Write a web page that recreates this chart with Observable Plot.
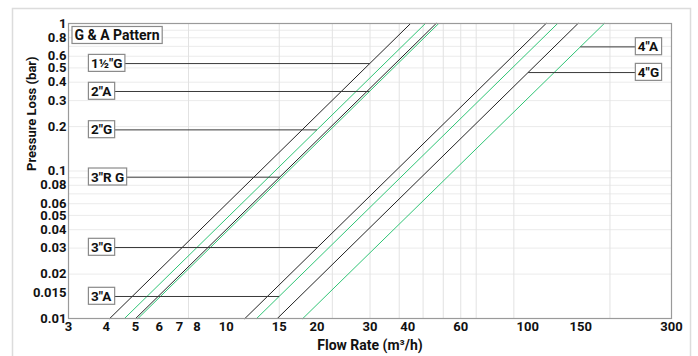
<!DOCTYPE html>
<html><head><meta charset="utf-8">
<script src="https://cdn.jsdelivr.net/npm/d3@7"></script>
<script src="https://cdn.jsdelivr.net/npm/@observablehq/plot@0.6"></script>
<style>
body{margin:0;background:#fff;}
#chart{position:relative;width:698px;height:356px;overflow:hidden;background:#fff}
</style></head><body><div id="chart"></div>
<script>
// Series (valve sizes) and their straight log-log lines, read at P = 0.01 bar and P = 1 bar
const series = ['1½"G', '2"G', '3"R G', '2"A', '3"G', '3"A', '4"G', '4"A'];
const seriesColor = ["black", "green", "black", "green", "black", "green", "black", "green"];
const flowAtLow = [4.11, 4.60, 5.01, 5.10, 11.54, 12.62, 14.78, 17.96];   // m3/h at 0.01 bar
const flowAtHigh = [40.9, 45.8, 49.7, 50.7, 115.1, 125.7, 146.9, 179.5];  // m3/h at 1 bar
const pressureLow = 0.01, pressureHigh = 1;
// Label leader heights (bar) and which side the label sits on
const labelPressure = [0.535, 0.19, 0.0908, 0.346, 0.0303, 0.0141, 0.465, 0.694];
const labelSide = ["left", "left", "left", "left", "left", "left", "right", "right"];
const title = "G & A Pattern";
const xLabel = "Flow Rate (m³/h)";
const yLabel = "Pressure Loss (bar)";
// Axes
const xTicks = [3, 4, 5, 6, 7, 8, 10, 15, 20, 30, 40, 60, 100, 150, 300];
const yTicks = [0.01, 0.015, 0.02, 0.03, 0.04, 0.05, 0.06, 0.08, 0.1, 0.2, 0.3, 0.4, 0.5, 0.6, 0.8, 1];
const xGrid = [7.5, 15, 22.5, 30, 37.5, 45, 52.5, 60, 67.5, 90, 187.5];
const yGrid = [0.02, 0.03, 0.04, 0.05, 0.06, 0.07, 0.08, 0.09, 0.1, 0.2, 0.3, 0.4, 0.5, 0.6, 0.7, 0.8, 0.9];

const COLORS = {black: "#222222", green: "#2fc475"};
const LABEL_FLOW = {left: 3.56, right: 232};
const FONT = "Roboto, 'DejaVu Sans', sans-serif";

const lineData = series.flatMap((s, i) => [
  {s, q: flowAtLow[i], p: pressureLow, c: COLORS[seriesColor[i]]},
  {s, q: flowAtHigh[i], p: pressureHigh, c: COLORS[seriesColor[i]]}
]);
function flowOn(i, p) {
  const t = (Math.log(p) - Math.log(pressureLow)) / (Math.log(pressureHigh) - Math.log(pressureLow));
  return Math.exp(Math.log(flowAtLow[i]) + t * (Math.log(flowAtHigh[i]) - Math.log(flowAtLow[i])));
}
const labelData = series.map((s, i) => ({
  s, p: labelPressure[i], side: labelSide[i],
  qEnd: flowOn(i, labelPressure[i]), qLabel: LABEL_FLOW[labelSide[i]]
}));

const bold = {fill: "#111", fontWeight: "bold", fontSize: 14};
const plot = Plot.plot({
  width: 698, height: 356,
  marginLeft: 68, marginRight: 27, marginTop: 23, marginBottom: 38,
  style: {fontFamily: FONT, fontSize: "14px", fontWeight: "bold", color: "#111", background: "transparent"},
  x: {type: "log", domain: [3, 300], axis: null},
  y: {type: "log", domain: [0.01, 1], axis: null},
  marks: [
    Plot.ruleY(yGrid, {stroke: "#ebebeb", strokeWidth: 1}),
    Plot.ruleX(xGrid, {stroke: "#e2e2e2", strokeWidth: 1}),
    Plot.line(lineData, {x: "q", y: "p", z: "s", stroke: "c", strokeWidth: 1}),
    Plot.link(labelData, {x1: "qLabel", x2: "qEnd", y1: "p", y2: "p", stroke: "#3a3a3a", strokeWidth: 1}),
    Plot.frame({stroke: "#9a9a9a", strokeWidth: 1.2}),
    // tick labels
    Plot.text(xTicks, {x: d => d, text: d => String(d), frameAnchor: "bottom", lineAnchor: "top", dy: 3, ...bold, fontSize: 13}),
    Plot.text(yTicks, {y: d => d, text: d => String(d), frameAnchor: "left", textAnchor: "end", dx: -2, ...bold, fontSize: 13}),
    // axis titles
    Plot.text([xLabel], {frameAnchor: "bottom", lineAnchor: "middle", dy: 27, ...bold}),
    Plot.text([yLabel], {frameAnchor: "left", rotate: -90, dx: -37, ...bold, fontSize: 13}),
    // boxed labels (the last two text marks get frames)
    Plot.text(labelData, {x: "qLabel", y: "p", text: "s", textAnchor: "start", ...bold, fontSize: 13.5}),
    Plot.text([title], {frameAnchor: "top-left", dx: 6, dy: 12, lineAnchor: "middle", textAnchor: "start", ...bold})
  ]
});
document.getElementById("chart").appendChild(plot);

// boxes around labels
const ns = "http://www.w3.org/2000/svg";
const groups = [...plot.querySelectorAll('g[aria-label="text"]')].slice(-2);
groups.forEach(g => g.querySelectorAll("text").forEach(t => {
  const b = t.getBBox();
  const r = document.createElementNS(ns, "rect");
  r.setAttribute("x", b.x - 2.5); r.setAttribute("y", b.y - 0.5);
  r.setAttribute("width", b.width + 5); r.setAttribute("height", b.height + 1);
  r.setAttribute("fill", "#fff"); r.setAttribute("stroke", "#8a8a8a"); r.setAttribute("stroke-width", "1.2");
  if (t.getAttribute("transform")) r.setAttribute("transform", t.getAttribute("transform"));
  t.parentNode.insertBefore(r, t);
}));
// outer panel border
const outer = document.createElementNS(ns, "rect");
outer.setAttribute("x", 12.5); outer.setAttribute("y", 8.5);
outer.setAttribute("width", 678); outer.setAttribute("height", 400);
outer.setAttribute("fill", "none"); outer.setAttribute("stroke", "#dcdcdc"); outer.setAttribute("stroke-width", "1.5");
plot.insertBefore(outer, plot.firstChild);
</script></body></html>
